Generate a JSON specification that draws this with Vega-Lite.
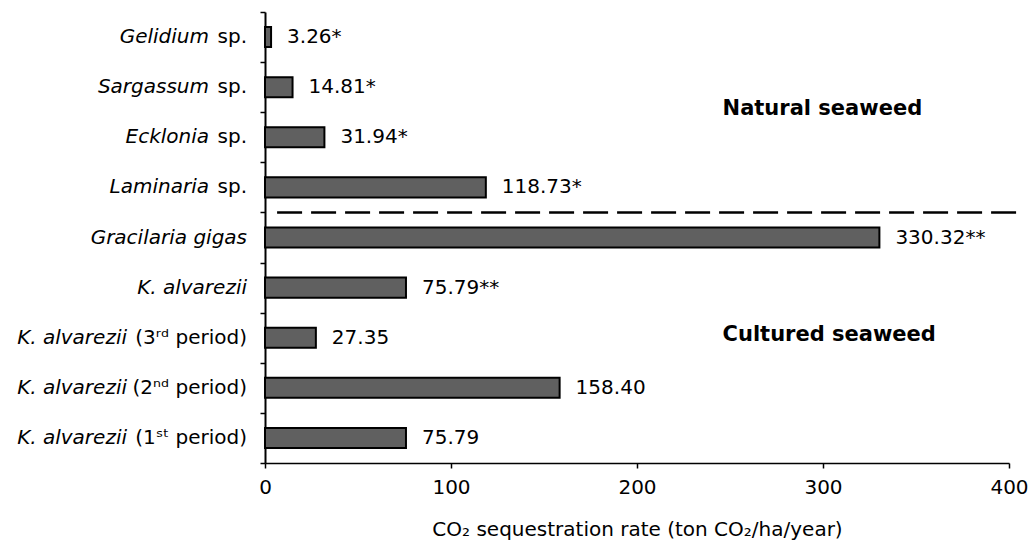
{
  "$schema": "https://vega.github.io/schema/vega-lite/v6.json",
  "autosize": "none",
  "width": 744,
  "height": 451,
  "padding": {"left": 265, "top": 12, "right": 24, "bottom": 78},
  "background": "white",
  "config": {
    "view": {"stroke": null},
    "font": "DejaVu Sans",
    "axis": {
      "domainColor": "black",
      "tickColor": "black",
      "labelColor": "black",
      "titleColor": "black",
      "labelFont": "DejaVu Sans",
      "titleFont": "DejaVu Sans",
      "labelFontSize": 20,
      "titleFontSize": 20,
      "titleFontWeight": "normal",
      "grid": false,
      "domainWidth": 1.5,
      "tickWidth": 1.5,
      "tickSize": 5
    },
    "text": {"font": "DejaVu Sans", "fontSize": 20, "color": "black"}
  },
  "datasets": {
    "rates": [
      {"cat": "Gelidium sp.", "name": "Gelidium", "suffix": "sp.", "grp": "sp", "value": 3.26, "lab": "3.26*"},
      {"cat": "Sargassum sp.", "name": "Sargassum", "suffix": "sp.", "grp": "sp", "value": 14.81, "lab": "14.81*"},
      {"cat": "Ecklonia sp.", "name": "Ecklonia", "suffix": "sp.", "grp": "sp", "value": 31.94, "lab": "31.94*"},
      {"cat": "Laminaria sp.", "name": "Laminaria", "suffix": "sp.", "grp": "sp", "value": 118.73, "lab": "118.73*"},
      {"cat": "Gracilaria gigas", "name": "Gracilaria gigas", "suffix": "", "grp": "none", "value": 330.32, "lab": "330.32**"},
      {"cat": "K. alvarezii", "name": "K. alvarezii", "suffix": "", "grp": "none", "value": 75.79, "lab": "75.79**"},
      {"cat": "K. alvarezii (3rd period)", "name": "K. alvarezii", "suffix": "(3ʳᵈ period)", "grp": "period", "value": 27.35, "lab": "27.35"},
      {"cat": "K. alvarezii (2nd period)", "name": "K. alvarezii", "suffix": "(2ⁿᵈ period)", "grp": "period", "value": 158.40, "lab": "158.40"},
      {"cat": "K. alvarezii (1st period)", "name": "K. alvarezii", "suffix": "(1ˢᵗ period)", "grp": "period", "value": 75.79, "lab": "75.79"}
    ]
  },
  "data": {"name": "rates"},
  "encoding": {
    "y": {
      "field": "cat",
      "type": "nominal",
      "sort": null,
      "scale": {
        "domain": ["Gelidium sp.", "Sargassum sp.", "Ecklonia sp.", "Laminaria sp.", "Gracilaria gigas", "K. alvarezii", "K. alvarezii (3rd period)", "K. alvarezii (2nd period)", "K. alvarezii (1st period)"],
        "paddingInner": 0,
        "paddingOuter": 0
      },
      "axis": {"labels": false, "title": null, "tickBand": "extent", "domainWidth": 2}
    }
  },
  "layer": [
    {
      "mark": {"type": "bar", "height": {"band": 0.4}, "fill": "#606060", "stroke": "black", "strokeWidth": 2},
      "encoding": {
        "x": {
          "field": "value",
          "type": "quantitative",
          "scale": {"domain": [0, 400], "nice": false},
          "axis": {"values": [0, 100, 200, 300, 400], "title": "CO₂ sequestration rate (ton CO₂/ha/year)", "labelPadding": 9, "titlePadding": 22, "labelFlush": false}
        }
      }
    },
    {
      "mark": {"type": "text", "align": "left", "baseline": "middle", "dx": 16},
      "encoding": {
        "x": {"field": "value", "type": "quantitative"},
        "text": {"field": "lab"}
      }
    },
    {
      "transform": [{"filter": "datum.grp == 'none'"}],
      "mark": {"type": "text", "align": "right", "baseline": "middle", "dx": -18, "fontStyle": "italic"},
      "encoding": {"x": {"datum": 0, "type": "quantitative"}, "text": {"field": "name"}}
    },
    {
      "transform": [{"filter": "datum.grp == 'sp'"}],
      "mark": {"type": "text", "align": "right", "baseline": "middle", "dx": -56, "fontStyle": "italic"},
      "encoding": {"x": {"datum": 0, "type": "quantitative"}, "text": {"field": "name"}}
    },
    {
      "transform": [{"filter": "datum.grp == 'period'"}],
      "mark": {"type": "text", "align": "right", "baseline": "middle", "dx": -138, "fontStyle": "italic"},
      "encoding": {"x": {"datum": 0, "type": "quantitative"}, "text": {"field": "name"}}
    },
    {
      "transform": [{"filter": "datum.grp != 'none'"}],
      "mark": {"type": "text", "align": "right", "baseline": "middle", "dx": -18},
      "encoding": {"x": {"datum": 0, "type": "quantitative"}, "text": {"field": "suffix"}}
    },
    {
      "data": {"values": [{"cat": "Gracilaria gigas", "start": 6.5, "end": 404.5}]},
      "mark": {"type": "rule", "color": "black", "strokeWidth": 2.5, "strokeDash": [25, 9]},
      "encoding": {
        "y": {"field": "cat", "type": "nominal", "bandPosition": 0},
        "x": {"field": "start", "type": "quantitative"},
        "x2": {"field": "end"}
      }
    },
    {
      "data": {"values": [{"cat": "Ecklonia sp.", "pos": 246, "t": "Natural seaweed"}]},
      "mark": {"type": "text", "align": "left", "baseline": "middle", "fontWeight": "bold", "fontSize": 21, "dy": -3},
      "encoding": {
        "y": {"field": "cat", "type": "nominal", "bandPosition": 0},
        "x": {"field": "pos", "type": "quantitative"},
        "text": {"field": "t"}
      }
    },
    {
      "data": {"values": [{"cat": "K. alvarezii (3rd period)", "pos": 246, "t": "Cultured seaweed"}]},
      "mark": {"type": "text", "align": "left", "baseline": "middle", "fontWeight": "bold", "fontSize": 21, "dy": -3},
      "encoding": {
        "y": {"field": "cat", "type": "nominal"},
        "x": {"field": "pos", "type": "quantitative"},
        "text": {"field": "t"}
      }
    }
  ]
}
